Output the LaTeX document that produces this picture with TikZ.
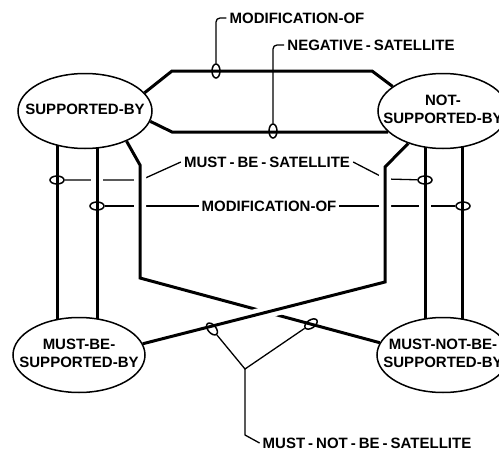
\documentclass[tikz,border=0pt]{standalone}
\usepackage{fontspec}
\setmainfont{Liberation Sans}
\usetikzlibrary{shapes.geometric,% ellipse nodes
backgrounds}
\tikzset{every node/.style={font=\fontsize{15}{18}\selectfont\bfseries},
  concept/.style={draw,ellipse,line width=1.5pt,fill=white,inner sep=0pt,
    minimum width=134pt,minimum height=75pt},
  bond/.style={line width=3pt,preaction={draw=white,line width=12pt}},
  rel/.style={line width=1.3pt},
  hook/.style={draw,ellipse,line width=1.5pt,inner sep=0pt,
    minimum width=14pt,minimum height=8pt},
  tag/.style={inner sep=3pt}}
\newcommand{\ovaltext}[1]{\makebox[0pt]{\begin{tabular}{@{}c@{}}#1\end{tabular}}}
\newcommand{\hy}{\kern3pt-\kern3pt}

\begin{document}
\begin{tikzpicture}[x=1pt,y=-1pt]
\useasboundingbox (0,0) rectangle (499,450);
\clip (0,0) rectangle (499,450);
\node[concept] (sb) at (85,111) {\ovaltext{SUPPORTED-BY}};
\node[concept,minimum width=130pt] (nsb) at (443,111) {\ovaltext{NOT-\\SUPPORTED-BY}};
\node[concept,minimum width=132pt] (mbs) at (79,355) {\ovaltext{MUST-BE-\\SUPPORTED-BY}};
\node[concept,minimum width=132pt] (mnbs) at (443,355) {\ovaltext{MUST-NOT-BE-\\SUPPORTED-BY}};
\node[tag] (modt) at (297,18) {MODIFICATION-OF};
\node[tag] (negs) at (371,45) {NEGATIVE\hy SATELLITE};
\node[tag] (sat) at (267,162) {MUST\hy BE\hy SATELLITE};
\node[tag,fill=white] (modm) at (269,206) {MODIFICATION-OF};
\node[tag] (mnsat) at (367,443) {MUST\hy NOT\hy BE\hy SATELLITE};
% attachment loops
\node[hook] (k1) at (57,180) {};
\node[hook] (k2) at (425,180) {};
\node[hook] (k3) at (97,206) {};
\node[hook] (k4) at (463,206) {};
\node[hook,rotate=90] (k5) at (216,71) {};
\node[hook,rotate=90] (k6) at (273,131) {};
\node[hook,rotate=-50] (k7) at (212,329) {};
\node[hook,rotate=34] (k8) at (311,324) {};
\begin{pgfonlayer}{background}
\draw[rel] (k3) -- (k4);
\draw[rel] (k1) -- (141,180) -- (sat.west);
\draw[rel] (sat.east) -- (386,179) -- (k2);
\draw[bond] (sb.17) -- (172,71) -- (372,71) -- (nsb.154);
\draw[bond] (sb.-9) -- (172,132) -- (nsb.201);
\foreach \a/\b in {-28/-22,12/18}
  \draw[bond] ([xshift=\a pt]sb.center) -- ([xshift=\b pt]mbs.center);
\foreach \a in {-18,19}
  \draw[bond] ([xshift=\a pt]nsb.center) -- ([xshift=\a pt]mnbs.center);
\draw[bond] (sb.-36) -- (140,165) -- (140,278) -- (mnbs.169);
\draw[bond] (nsb.223) -- (385,167) -- (385,282) -- (mbs.10);
\end{pgfonlayer}
\draw[rel,rounded corners=4pt] (modt.west) -| (k5);
\draw[rel,rounded corners=4pt] (negs.west) -| (k6);
\coordinate (j) at (245,369);
\draw[rel] (k7) -- (j) -- (k8);
\draw[rel] (j) -- ++(0,66) -- (mnsat.west);
\end{tikzpicture}
\end{document}
